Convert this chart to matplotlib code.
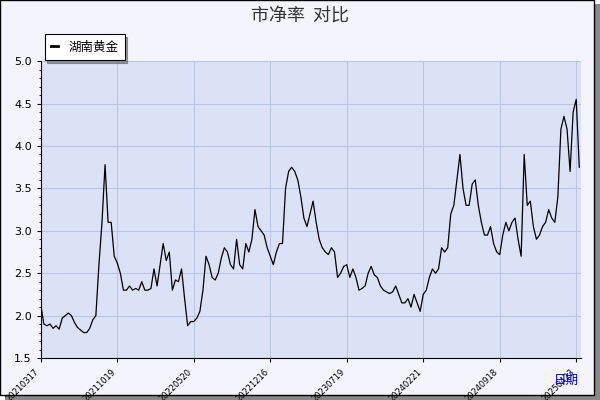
import matplotlib
matplotlib.use('Agg')
import matplotlib.pyplot as plt
from matplotlib.patches import Rectangle

plt.rcParams['font.family'] = ['Noto Sans CJK SC', 'DejaVu Sans']

# 市净率, sampled roughly every few trading days
pb = [2.13, 1.9, 1.88, 1.9, 1.85, 1.88, 1.84, 1.97, 2.0, 2.03, 2.0, 1.92, 1.86, 1.83, 1.8, 1.8,
      1.85, 1.95, 2.0, 2.6, 3.1, 3.78, 3.1, 3.1, 2.7, 2.62,
      2.5, 2.3, 2.3, 2.35, 2.3, 2.32, 2.3, 2.4, 2.3, 2.3, 2.32, 2.55, 2.35, 2.6, 2.85, 2.65,
      2.75, 2.3, 2.42, 2.4, 2.55, 2.2, 1.88, 1.93, 1.93,
      1.97, 2.05, 2.3, 2.7, 2.6, 2.45, 2.42, 2.5, 2.68, 2.8, 2.75, 2.6, 2.55, 2.9, 2.6, 2.55,
      2.85, 2.75, 2.9, 3.25, 3.05, 3.0, 2.95, 2.8, 2.7,
      2.6, 2.75, 2.85, 2.85, 3.5, 3.7, 3.75, 3.7, 3.6, 3.4, 3.15, 3.05, 3.2, 3.35, 3.1, 2.9,
      2.8, 2.75, 2.72, 2.8, 2.75, 2.45, 2.5, 2.58, 2.6,
      2.45, 2.55, 2.45, 2.3, 2.32, 2.35, 2.5, 2.58, 2.48, 2.45, 2.35, 2.3, 2.28, 2.26, 2.28,
      2.35, 2.25, 2.15, 2.15, 2.2, 2.1, 2.25, 2.15, 2.05, 2.25,
      2.3, 2.45, 2.55, 2.5, 2.55, 2.8, 2.75, 2.8, 3.2, 3.3, 3.6, 3.9, 3.5, 3.3, 3.3, 3.55,
      3.6, 3.3, 3.1, 2.95, 2.95, 3.05, 2.85, 2.75, 2.72,
      2.95, 3.1, 3.0, 3.1, 3.15, 2.9, 2.7, 3.9, 3.3, 3.35, 3.05, 2.9, 2.95, 3.05, 3.1, 3.25,
      3.15, 3.1, 3.4, 4.2, 4.35, 4.2, 3.7, 4.4, 4.55, 3.75]
tick_labels = ['20210317', '20211019', '20220520', '20221216', '20230719',
               '20240221', '20240918', '20250423']
tick_step = 25

fig = plt.figure(figsize=(6, 4), dpi=100, facecolor='#f3f4fc')
ax = fig.add_axes([0.068, 0.105, 0.90, 0.742])
ax.set_facecolor('#dce2f6')
ax.plot(range(len(pb)), pb, color='black', lw=0.9, label='湖南黄金')
ax.set_xlim(0, len(pb) - 0.5)
ax.set_ylim(1.5, 5.0)
ax.set_yticks([1.5, 2.0, 2.5, 3.0, 3.5, 4.0, 4.5, 5.0])
ax.set_yticklabels(['1.5', '2.0', '2.5', '3.0', '3.5', '4.0', '4.5', '5.0'], fontsize=8,
                   family='DejaVu Sans')
ax.set_yticks([1.5 + 0.1 * i for i in range(36)], minor=True)
ax.set_xticks([i * tick_step for i in range(len(tick_labels))])
ax.set_xticklabels(tick_labels, rotation=45, ha='right', fontsize=6, family='DejaVu Sans')
ax.grid(True, color='#b8c4e8', lw=0.8)
for s in ['top', 'right']:
    ax.spines[s].set_visible(False)
ax.tick_params(axis='both', length=3)
ax.tick_params(which='minor', length=1.5)

fig.text(0.5, 0.962, '市净率  对比', ha='center', va='center', fontsize=13, color='#333333')
fig.text(0.965, 0.05, '日期', ha='right', va='center', fontsize=9, color='#0000cc')
leg = fig.legend(loc='upper left', bbox_to_anchor=(0.064, 0.93), fontsize=9, frameon=True,
                 fancybox=False, shadow=True, edgecolor='black', handlelength=0.6,
                 borderpad=0.5, framealpha=1)
leg.get_frame().set_linewidth(0.8)
for line in leg.get_lines():
    line.set_linewidth(2)

# outer frame with shadow
fig.patches.append(Rectangle((0.008, 0.0), 0.992, 0.99, transform=fig.transFigure,
                             facecolor='#888888', edgecolor='none', zorder=-2))
fig.patches.append(Rectangle((0.0, 0.012), 0.99, 0.988, transform=fig.transFigure,
                             facecolor='#f3f4fc', edgecolor='black', lw=1, zorder=-1))
fig.savefig('out.png', dpi=100, facecolor='white')
